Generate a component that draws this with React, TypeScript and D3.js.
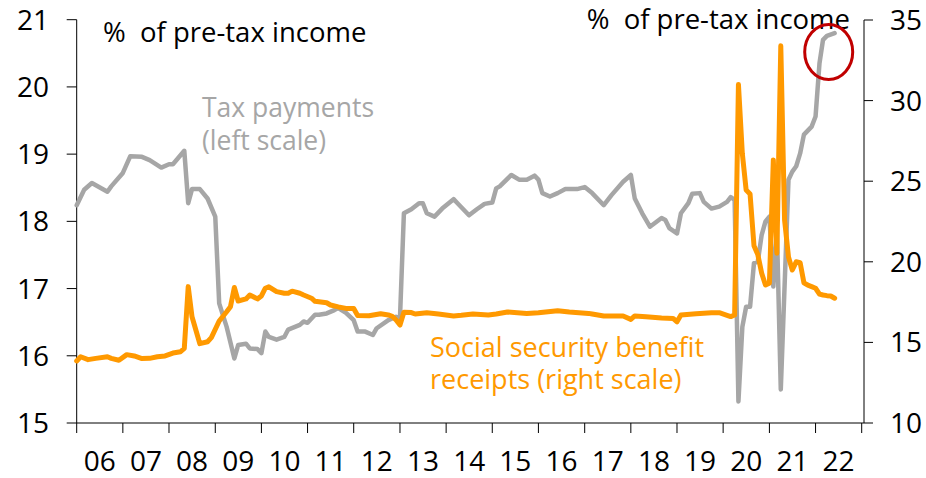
import React from 'react';
import * as d3 from 'd3';

// month-end readings, % of pre-tax income
const taxMonths = [
  '2005-12', '2006-02', '2006-04', '2006-08', '2006-09', '2006-12', '2007-02', '2007-05', '2007-07', '2007-10',
  '2007-12', '2008-01', '2008-04', '2008-05', '2008-06', '2008-08', '2008-10', '2008-12', '2009-01', '2009-03',
  '2009-05', '2009-06', '2009-08', '2009-09', '2009-11', '2009-12', '2010-01', '2010-02', '2010-04', '2010-06',
  '2010-07', '2010-10', '2010-11', '2010-12', '2011-02', '2011-03', '2011-05', '2011-07', '2011-08', '2011-10',
  '2011-12', '2012-01', '2012-03', '2012-05', '2012-06', '2012-09', '2012-11', '2012-12', '2013-01', '2013-03',
  '2013-05', '2013-06', '2013-07', '2013-09', '2013-11', '2014-02', '2014-03', '2014-06', '2014-08', '2014-10',
  '2014-12', '2015-01', '2015-02', '2015-05', '2015-07', '2015-09', '2015-11', '2015-12', '2016-01', '2016-03',
  '2016-05', '2016-07', '2016-10', '2016-12', '2017-02', '2017-05', '2017-07', '2017-10', '2017-12', '2018-01',
  '2018-03', '2018-05', '2018-08', '2018-09', '2018-10', '2018-12', '2019-01', '2019-03', '2019-04', '2019-06',
  '2019-07', '2019-09', '2019-11', '2020-01', '2020-02', '2020-03', '2020-04', '2020-05', '2020-06', '2020-07',
  '2020-08', '2020-09', '2020-10', '2020-11', '2020-12', '2021-01', '2021-02', '2021-03', '2021-05', '2021-06',
  '2021-07', '2021-08', '2021-09', '2021-11', '2021-12', '2022-01', '2022-02', '2022-03', '2022-05',
];
const taxShare = [
  18.24, 18.47, 18.57, 18.44, 18.52, 18.72, 18.97, 18.96, 18.91, 18.8,
  18.85, 18.85, 19.05, 18.27, 18.48, 18.48, 18.34, 18.07, 16.78, 16.43,
  15.96, 16.16, 16.18, 16.11, 16.1, 16.04, 16.36, 16.28, 16.24, 16.28,
  16.39, 16.46, 16.51, 16.49, 16.61, 16.61, 16.63, 16.68, 16.71, 16.64,
  16.53, 16.36, 16.36, 16.31, 16.41, 16.53, 16.58, 16.56, 18.12, 18.18,
  18.27, 18.27, 18.12, 18.07, 18.19, 18.33, 18.27, 18.09, 18.18, 18.26,
  18.28, 18.49, 18.52, 18.69, 18.62, 18.62, 18.68, 18.62, 18.42, 18.37,
  18.42, 18.48, 18.48, 18.51, 18.42, 18.24, 18.39, 18.59, 18.69, 18.34,
  18.12, 17.92, 18.05, 18.02, 17.9, 17.82, 18.12, 18.27, 18.41, 18.42,
  18.29, 18.19, 18.22, 18.29, 18.36, 18.32, 15.32, 16.43, 16.73, 16.73,
  17.38, 17.4, 17.8, 18.0, 18.07, 17.03, 17.9, 15.5, 18.62, 18.74,
  18.82, 19.01, 19.29, 19.41, 19.56, 20.35, 20.7, 20.76, 20.8,
];

const benefitMonths = [
  '2005-12', '2006-01', '2006-03', '2006-05', '2006-08', '2006-09', '2006-11', '2007-01', '2007-03', '2007-05',
  '2007-07', '2007-09', '2007-11', '2008-01', '2008-03', '2008-04', '2008-05', '2008-06', '2008-08', '2008-10',
  '2008-11', '2009-01', '2009-03', '2009-04', '2009-05', '2009-06', '2009-08', '2009-09', '2009-11', '2009-12',
  '2010-01', '2010-02', '2010-04', '2010-06', '2010-07', '2010-08', '2010-10', '2010-11', '2011-01', '2011-02',
  '2011-05', '2011-06', '2011-08', '2011-10', '2011-12', '2012-01', '2012-04', '2012-07', '2012-09', '2012-10',
  '2012-11', '2012-12', '2013-01', '2013-03', '2013-04', '2013-07', '2013-10', '2014-02', '2014-04', '2014-07',
  '2014-11', '2015-01', '2015-04', '2015-09', '2015-12', '2016-05', '2016-08', '2017-01', '2017-02', '2017-05',
  '2017-10', '2017-12', '2018-01', '2018-04', '2018-08', '2018-11', '2018-12', '2019-01', '2019-05', '2019-09',
  '2019-11', '2020-01', '2020-02', '2020-03', '2020-04', '2020-05', '2020-06', '2020-07', '2020-08', '2020-09',
  '2020-10', '2020-11', '2020-12', '2021-01', '2021-02', '2021-03', '2021-04', '2021-05', '2021-06', '2021-07',
  '2021-08', '2021-09', '2021-10', '2021-11', '2021-12', '2022-01', '2022-02', '2022-03', '2022-04', '2022-05',
];
const benefitShare = [
  13.85, 14.11, 13.93, 14.01, 14.11, 14.01, 13.89, 14.24, 14.16, 14.0,
  14.01, 14.11, 14.16, 14.34, 14.42, 14.63, 18.46, 16.59, 14.92, 15.04,
  15.3, 16.33, 16.9, 17.21, 18.41, 17.57, 17.7, 17.94, 17.7, 17.88,
  18.36, 18.45, 18.15, 18.05, 18.05, 18.18, 18.05, 17.94, 17.74, 17.55,
  17.46, 17.32, 17.2, 17.11, 17.1, 16.67, 16.65, 16.78, 16.7, 16.62,
  16.39, 16.08, 16.87, 16.85, 16.76, 16.84, 16.76, 16.64, 16.68, 16.76,
  16.7, 16.76, 16.89, 16.8, 16.84, 16.97, 16.89, 16.8, 16.76, 16.64,
  16.64, 16.43, 16.64, 16.59, 16.52, 16.49, 16.28, 16.7, 16.78, 16.84,
  16.84, 16.68, 16.6, 16.7, 31.0, 26.7, 24.45, 24.2, 21.0, 20.45,
  19.29, 18.56, 18.67, 26.32, 20.53, 33.4, 22.59, 20.3, 19.49, 20.0,
  19.95, 18.7, 18.55, 18.46, 18.36, 18.0, 17.94, 17.9, 17.88, 17.74,
];

const leftTicks = [15, 16, 17, 18, 19, 20, 21];
const rightTicks = [10, 15, 20, 25, 30, 35];
const years = d3.range(2006, 2023);

const W = 926;
const H = 478;
const FONT = "'Century Gothic', 'Open Sans', sans-serif";
const GREY = '#a6a6a6';
const ORANGE = '#ff9900';

const parseMonth = d3.timeParse('%Y-%m');
// values are month-end, so sit them at the start of the following month
const monthEnd = (s: string) => d3.timeMonth.offset(parseMonth(s) as Date, 1);

const App: React.FC = () => {
  const x = d3.scaleTime()
    .domain([new Date(2006, 0, 1), new Date(2023, 0, 1)])
    .range([76.7, 861.7]);
  const yLeft = d3.scaleLinear().domain([15, 21]).range([423, 19.7]);
  const yRight = d3.scaleLinear().domain([10, 35]).range([423, 20]);

  const baseY = yLeft(15);
  const leftX = x(new Date(2006, 0, 1));
  const rightX = 864;

  const taxLine = d3.line<number>()
    .x((_, i) => x(monthEnd(taxMonths[i])))
    .y(d => yLeft(d));
  const benefitLine = d3.line<number>()
    .x((_, i) => x(monthEnd(benefitMonths[i])))
    .y(d => yRight(d));

  // ring round the latest tax readings
  const ringX = x(new Date(2022, 3, 15));
  const ringY = yLeft(20.52);

  return (
    <svg
      width={W}
      height={H}
      style={{ position: 'absolute', left: 0, top: 0, background: '#fff', fontFamily: FONT }}
    >
      {/* left axis */}
      <line x1={leftX} x2={leftX} y1={yLeft(21)} y2={baseY} stroke="#000" strokeWidth={1} />
      {leftTicks.map(t => (
        <g key={'l' + t}>
          <line x1={leftX - 10} x2={leftX} y1={yLeft(t)} y2={yLeft(t)} stroke="#000" strokeWidth={1} />
          <text x={49} y={yLeft(t)} dy="0.36em" textAnchor="end" fontSize={28} fill="#000">
            {t}
          </text>
        </g>
      ))}

      {/* right axis */}
      <line x1={rightX} x2={rightX} y1={yRight(35)} y2={baseY} stroke="#000" strokeWidth={1} />
      {rightTicks.map(t => (
        <g key={'r' + t}>
          <line x1={rightX} x2={rightX + 9} y1={yRight(t)} y2={yRight(t)} stroke="#000" strokeWidth={1} />
          <text x={890} y={yRight(t)} dy="0.36em" textAnchor="start" fontSize={28} fill="#000">
            {t}
          </text>
        </g>
      ))}

      {/* bottom axis */}
      <line x1={leftX} x2={rightX} y1={baseY} y2={baseY} stroke="#000" strokeWidth={1} />
      {[...years, 2023].map(yr => (
        <line
          key={'t' + yr}
          x1={x(new Date(yr, 0, 1))}
          x2={x(new Date(yr, 0, 1))}
          y1={baseY}
          y2={baseY + 10}
          stroke="#000"
          strokeWidth={1}
        />
      ))}
      {years.map(yr => (
        <text
          key={'y' + yr}
          x={(x(new Date(yr, 0, 1)) + x(new Date(yr + 1, 0, 1))) / 2}
          y={471}
          textAnchor="middle"
          fontSize={28}
          fill="#000"
        >
          {String(yr).slice(2)}
        </text>
      ))}

      {/* series */}
      <path
        d={taxLine(taxShare) || ''}
        fill="none"
        stroke={GREY}
        strokeWidth={4.5}
        strokeLinejoin="round"
        strokeLinecap="round"
      />
      <path
        d={benefitLine(benefitShare) || ''}
        fill="none"
        stroke={ORANGE}
        strokeWidth={5}
        strokeLinejoin="round"
        strokeLinecap="round"
      />

      {/* titles */}
      <text x={103} y={42} fontSize={27.5} fill="#000" style={{ whiteSpace: 'pre' }}>
        {'%  of pre-tax income'}
      </text>
      <text x={850} y={29} fontSize={27.5} textAnchor="end" fill="#000" style={{ whiteSpace: 'pre' }}>
        {'%  of pre-tax income'}
      </text>

      {/* series labels */}
      <text x={202} y={117} fontSize={26.5} fill={GREY}>Tax payments</text>
      <text x={202} y={150} fontSize={26.5} fill={GREY}>(left scale)</text>
      <text x={430} y={357} fontSize={27} fill={ORANGE}>Social security benefit</text>
      <text x={430} y={389} fontSize={27} fill={ORANGE}>receipts (right scale)</text>

      <ellipse cx={ringX} cy={ringY} rx={24} ry={27.5} fill="none" stroke="#c00000" strokeWidth={3} />
    </svg>
  );
};

export default App;
